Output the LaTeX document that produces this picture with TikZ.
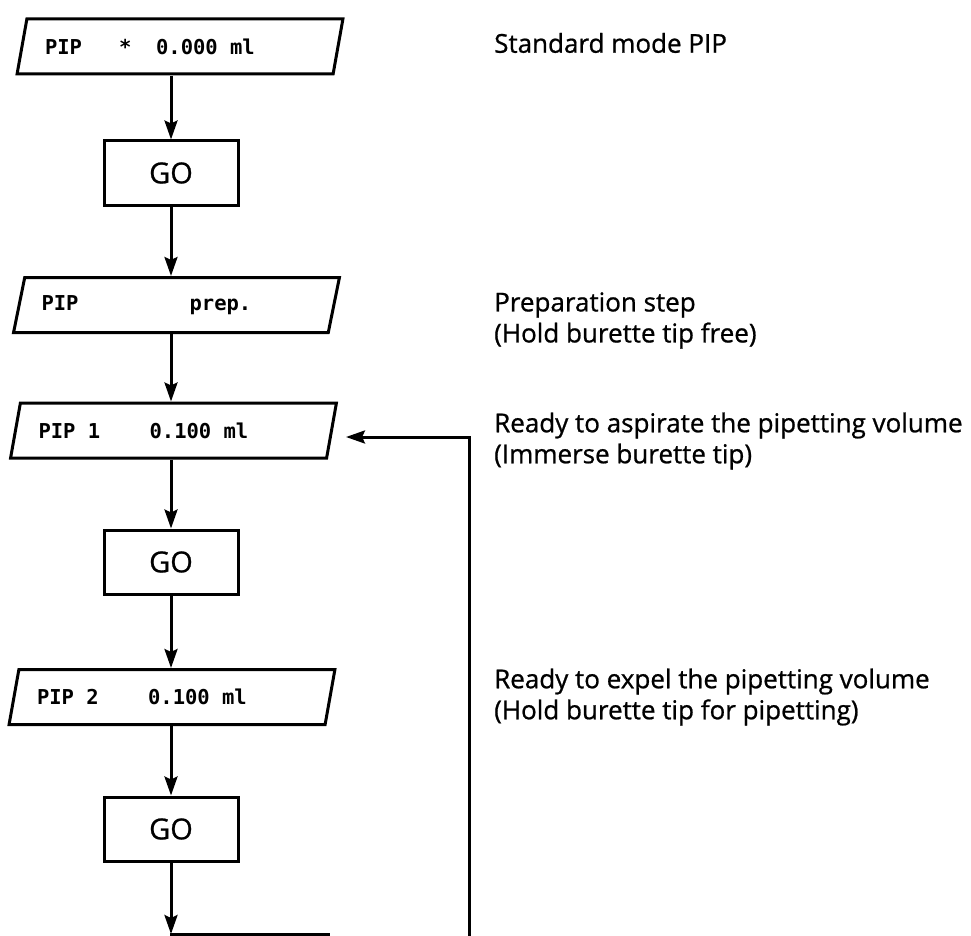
\documentclass[tikz,border=0pt]{standalone}
\usepackage{fontspec}
\setmainfont{Open Sans}
\setmonofont{DejaVu Sans Mono}
\newfontfamily\notefont{Open Sans}[FakeBold = 0.8]
\usetikzlibrary{positioning, shapes.geometric, arrows.meta}

\newcommand{\blankchar}{\hphantom{0}}

\tikzset{
  flow/.style = {line width = 3pt},
  display/.style = {flow, draw, trapezium, trapezium left angle = 69,
    trapezium right angle = 111, trapezium stretches = true,
    minimum width = 326pt, minimum height = 55pt, inner xsep = 0pt,
    text width = 270pt, align = left,
    font = \fontsize{20.5}{24}\selectfont\ttfamily\bfseries},
  gokey/.style = {flow, draw, rectangle, minimum width = 134pt,
    minimum height = 64pt, font = \fontsize{29}{32}\selectfont\notefont},
  note/.style = {anchor = west, inner sep = 0pt, align = left,
    font = \fontsize{26}{31}\selectfont\notefont},
  go/.style = {flow, -{Stealth[length = 19pt, width = 13pt, inset = 3pt]}}
}

\begin{document}
\begin{tikzpicture}[x = 1pt, y = -1pt]
\useasboundingbox (0, 0) rectangle (971, 936);
\node [display] (p1) at (180, 46.5) {PIP\blankchar\blankchar\blankchar*\blankchar\blankchar0.000\blankchar ml};
\node [gokey] (go1) at (171, 173) {GO};
\node [display] (p2) at (176.5, 305) {PIP\blankchar\blankchar\blankchar\blankchar\blankchar\blankchar\blankchar\blankchar\blankchar prep.};
\node [display] (p3) at (173.5, 430.5) {PIP\blankchar 1\blankchar\blankchar\blankchar\blankchar0.100\blankchar ml};
\node [gokey] (go2) at (171, 562) {GO};
\node [display] (p4) at (172, 697) {PIP\blankchar 2\blankchar\blankchar\blankchar\blankchar0.100\blankchar ml};
\node [gokey] (go3) at (171, 829) {GO};
\coordinate (next) at (171, 934);
\coordinate (nextleft) at (170, 934);
\coordinate (nextright) at (330, 934);
\coordinate (loopin) at (469, 936);
\coordinate (p3in) at (346, 437);
\node [note] (n1) at (494, 43) {Standard mode PIP};
\node [note] (n2) at (494, 320.5) {Preparation step\\(Hold burette tip free)};
\node [note] (n3) at (494, 441) {Ready to aspirate the pipetting volume\\(Immerse burette tip)};
\node [note] (n4) at (494, 697) {Ready to expel the pipetting volume\\(Hold burette tip for pipetting)};
\draw [go] (go1.north |- p1.south) -- (go1.north);
\draw [go] (go1.south) -- (go1.south |- p2.north);
\draw [go] (go1.south |- p2.south) -- (go1.south |- p3.north);
\draw [go] (go2.north |- p3.south) -- (go2.north);
\draw [go] (go2.south) -- (go2.south |- p4.north);
\draw [go] (go3.north |- p4.south) -- (go3.north);
\draw [go] (go3.south) -- (next);
\draw [flow] (nextleft) -- (nextright);
\draw [go] (loopin) |- (p3in);
\end{tikzpicture}
\end{document}
